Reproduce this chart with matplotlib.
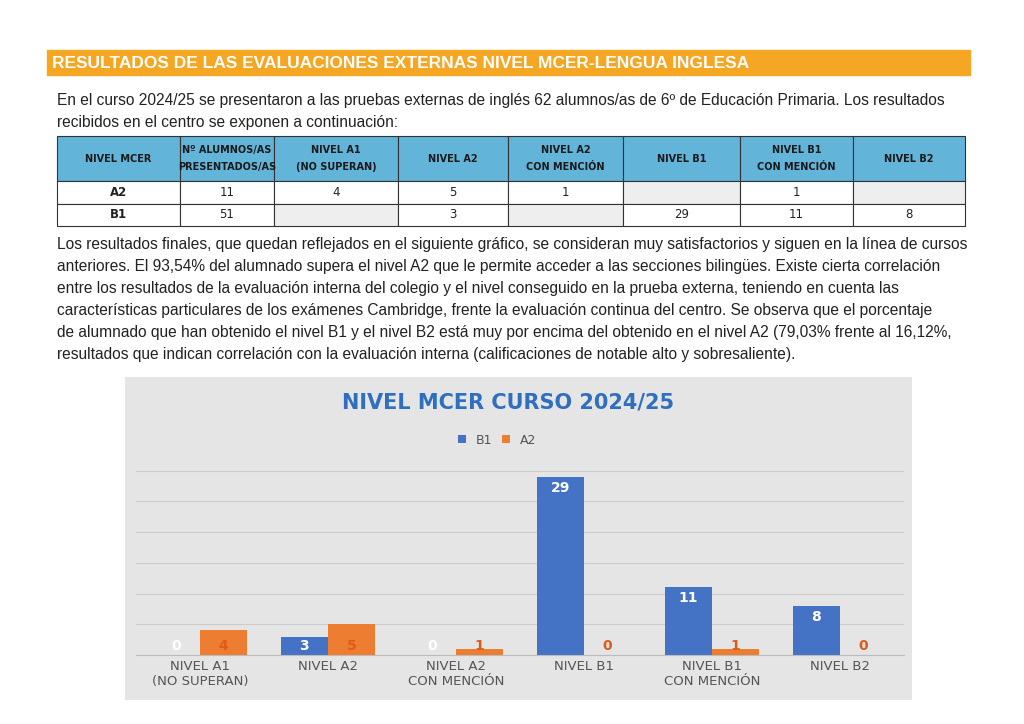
import matplotlib
matplotlib.use("Agg")
import matplotlib.pyplot as plt
import numpy as np
from matplotlib.patches import Rectangle

categories = ["NIVEL A1\n(NO SUPERAN)", "NIVEL A2", "NIVEL A2\nCON MENCIÓN", "NIVEL B1", "NIVEL B1\nCON MENCIÓN", "NIVEL B2"]
b1 = [0, 3, 0, 29, 11, 8]
a2 = [4, 5, 1, 0, 1, 0]

table_header = ["NIVEL MCER", "Nº ALUMNOS/AS\nPRESENTADOS/AS", "NIVEL A1\n(NO SUPERAN)", "NIVEL A2", "NIVEL A2\nCON MENCIÓN", "NIVEL B1", "NIVEL B1\nCON MENCIÓN", "NIVEL B2"]
table_rows = [["A2", "11", "4", "5", "1", "", "1", ""],
              ["B1", "51", "", "3", "", "29", "11", "8"]]

W, H = 1024, 724
fig = plt.figure(figsize=(W/100, H/100), dpi=100)
page = fig.add_axes([0, 0, 1, 1])
page.set_xlim(0, W); page.set_ylim(H, 0); page.axis("off")

page.add_patch(Rectangle((47, 50), 923, 25, color="#f5a623"))
page.text(52, 63, "RESULTADOS DE LAS EVALUACIONES EXTERNAS NIVEL MCER-LENGUA INGLESA",
          color="white", fontsize=12.5, fontweight="bold", va="center", family="Liberation Sans")

tf = dict(fontsize=11.2, color="#222222", family="Liberation Sans", va="center")
page.text(57, 100, "En el curso 2024/25 se presentaron a las pruebas externas de inglés 62 alumnos/as de 6º de Educación Primaria. Los resultados", **tf)
page.text(57, 122, "recibidos en el centro se exponen a continuación:", **tf)

xs = [57, 180, 274, 398, 508, 623, 740, 853, 965]
ys = [136, 181, 204, 226]
for i in range(8):
    page.add_patch(Rectangle((xs[i], ys[0]), xs[i+1]-xs[i], ys[1]-ys[0], facecolor="#63b4d9", edgecolor="#333", lw=0.8))
    page.text((xs[i]+xs[i+1])/2, (ys[0]+ys[1])/2, table_header[i], ha="center", va="center",
              fontsize=7, fontweight="bold", color="#1a1a1a", linespacing=1.9)
for r, row in enumerate(table_rows):
    for i in range(8):
        fc = "white" if (row[i] != "" or i == 0) else "#eeeeee"
        page.add_patch(Rectangle((xs[i], ys[r+1]), xs[i+1]-xs[i], ys[r+2]-ys[r+1], facecolor=fc, edgecolor="#333", lw=0.8))
        page.text((xs[i]+xs[i+1])/2, (ys[r+1]+ys[r+2])/2, row[i], ha="center", va="center",
                  fontsize=8.5, fontweight="bold" if i == 0 else "normal", color="#222")

para = ["Los resultados finales, que quedan reflejados en el siguiente gráfico, se consideran muy satisfactorios y siguen en la línea de cursos",
        "anteriores. El 93,54% del alumnado supera el nivel A2 que le permite acceder a las secciones bilingües. Existe cierta correlación",
        "entre los resultados de la evaluación interna del colegio y el nivel conseguido en la prueba externa, teniendo en cuenta las",
        "características particulares de los exámenes Cambridge, frente la evaluación continua del centro. Se observa que el porcentaje",
        "de alumnado que han obtenido el nivel B1 y el nivel B2 está muy por encima del obtenido en el nivel A2 (79,03% frente al 16,12%,",
        "resultados que indican correlación con la evaluación interna (calificaciones de notable alto y sobresaliente)."]
for k, line in enumerate(para):
    page.text(57, 245 + k*22, line, **tf)

page.add_patch(Rectangle((125, 377), 787, 323, facecolor="#e4e5e4", edgecolor="none"))
page.text(508, 402, "NIVEL MCER CURSO 2024/25", ha="center", va="center", fontsize=15,
          fontweight="bold", color="#2f6fbf")

x0, x1 = 136, 904
ybase, ytop = 655, 440
ax = fig.add_axes([x0/W, 1-ybase/H, (x1-x0)/W, (ybase-ytop)/H])
ax.patch.set_alpha(0)
ax.set_xlim(-0.5, 5.5); ax.set_ylim(0, 35)
for s in ax.spines.values(): s.set_visible(False)
ax.spines["bottom"].set_visible(True); ax.spines["bottom"].set_color("#bbbbbb")
ax.set_yticks([]); ax.tick_params(length=0)
for g in range(5, 31, 5):
    ax.axhline(g, color="#cccccc", lw=0.8, zorder=0)
x = np.arange(len(categories))
w = 0.37
cb, ca = "#4472c4", "#ed7d31"
bb = ax.bar(x - w/2, b1, w, color=cb, zorder=2)
ba = ax.bar(x + w/2, a2, w, color=ca, zorder=2)
for xi, v in zip(x, b1):
    ax.text(xi - w/2, max(v - 1.8, 1.5), str(v), ha="center", va="center", color="white", fontsize=10, fontweight="bold")
for xi, v in zip(x, a2):
    ax.text(xi + w/2, 1.5, str(v), ha="center", va="center", color="#e05a1a", fontsize=10, fontweight="bold")
ax.set_xticks(x)
ax.set_xticklabels(categories, fontsize=9.5, color="#555555")
ax.legend([bb, ba], ["B1", "A2"], loc="center", bbox_to_anchor=(0.47, 1.0), ncol=2,
          frameon=False, fontsize=9, labelcolor="#555", handlelength=0.6, handleheight=0.6, columnspacing=0.8)

fig.savefig("out.png", dpi=100, facecolor="white")
